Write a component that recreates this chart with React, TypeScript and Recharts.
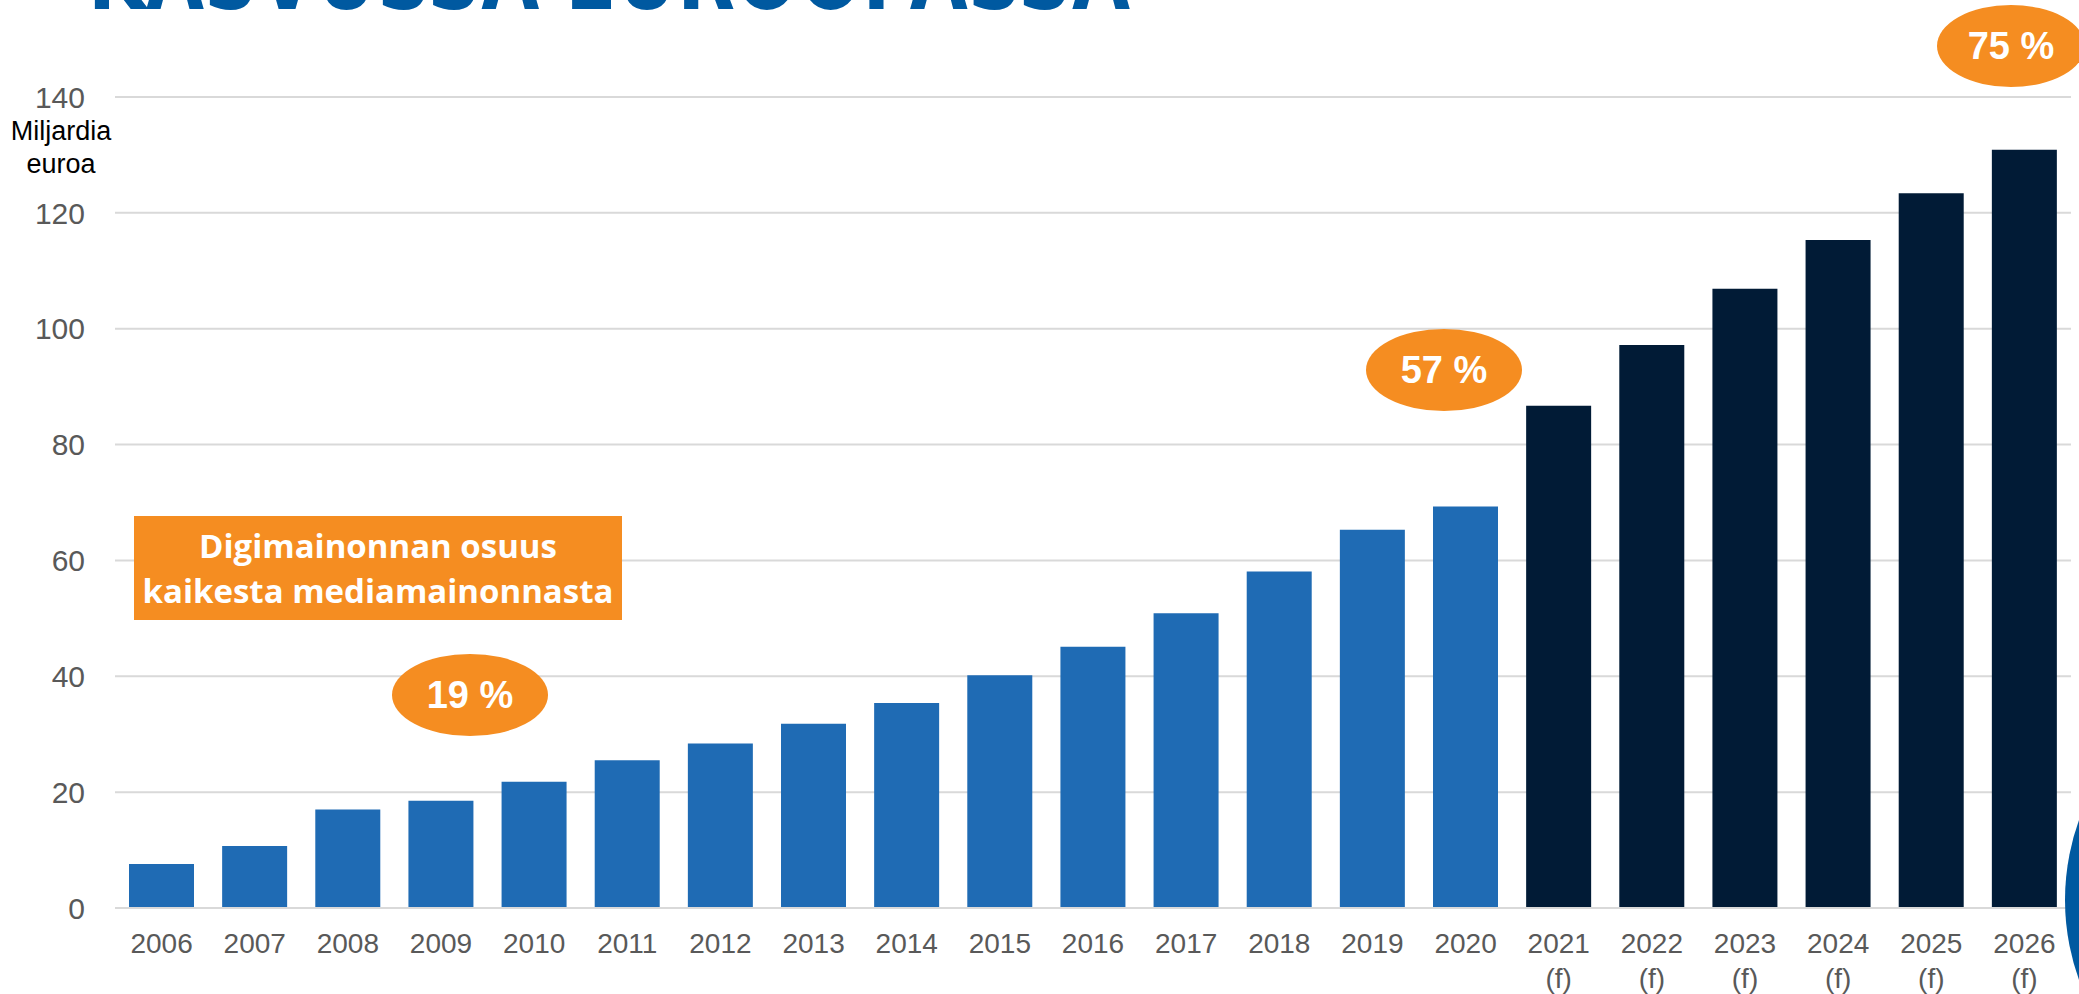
import React from 'react';
import { BarChart, Bar, XAxis, YAxis, CartesianGrid, Cell } from 'recharts';

const years = [
  '2006', '2007', '2008', '2009', '2010', '2011', '2012', '2013', '2014', '2015', '2016',
  '2017', '2018', '2019', '2020', '2021', '2022', '2023', '2024', '2025', '2026',
];
const spend = [
  7.6, 10.7, 17.0, 18.5, 21.8, 25.5, 28.4, 31.8, 35.4, 40.2, 45.1,
  50.9, 58.1, 65.3, 69.3, 86.7, 97.2, 106.9, 115.3, 123.4, 130.9,
];
const isForecast = [
  false, false, false, false, false, false, false, false, false, false, false,
  false, false, false, false, true, true, true, true, true, true,
];
const yTicks = [0, 20, 40, 60, 80, 100, 120, 140];

const chartData = years.map((year, i) => ({ year, value: spend[i], forecast: isForecast[i] }));

const BLUE = '#1f6bb4';
const NAVY = '#011b36';
const ORANGE = '#f58d21';
const GREY_TEXT = '#595959';
const GRID = '#d9d9d9';

const YearTick = ({ x, y, payload }: any) => {
  const idx = years.indexOf(payload.value);
  return (
    <text x={x} y={y} textAnchor="middle" fill={GREY_TEXT} fontSize={28} fontFamily="'Liberation Sans', Arial, sans-serif">
      <tspan x={x} dy={45}>{payload.value}</tspan>
      {isForecast[idx] && <tspan x={x} dy={35}>(f)</tspan>}
    </text>
  );
};

const ValueTick = ({ x, y, payload }: any) => (
  <text x={x} y={y} dy="0.355em" textAnchor="end" fill={GREY_TEXT} fontSize={30} fontFamily="'Liberation Sans', Arial, sans-serif">
    {payload.value}
  </text>
);

const Bubble = ({ left, top, width, text }: { left: number; top: number; width: number; text: string }) => (
  <div
    style={{
      position: 'absolute',
      left,
      top,
      width,
      height: 82,
      borderRadius: '50%',
      background: ORANGE,
      color: '#fff',
      display: 'flex',
      alignItems: 'center',
      justifyContent: 'center',
      fontFamily: "'Liberation Sans', Arial, sans-serif",
      fontWeight: 700,
      fontSize: 38,
    }}
  >
    {text}
  </div>
);

export default function App() {
  return (
    <div
      style={{
        position: 'absolute',
        left: 0,
        top: 0,
        width: 2079,
        height: 994,
        overflow: 'hidden',
        background: '#fff',
      }}
    >
      <svg width={2079} height={40} style={{ position: 'absolute', left: 0, top: 0 }}>
        <text
          x={88}
          y={9}
          textLength={1042}
          lengthAdjust="spacingAndGlyphs"
          fill="#0059a0"
          fontSize={98}
          fontWeight={700}
          fontFamily="'Liberation Sans Narrow', 'DejaVu Sans Condensed', 'Liberation Sans', sans-serif"
        >
          KASVUSSA EUROOPASSA
        </text>
      </svg>

      <BarChart
        width={2079}
        height={994}
        data={chartData}
        margin={{ top: 97, right: 8, bottom: 0, left: 0 }}
      >
        <CartesianGrid vertical={false} stroke={GRID} strokeWidth={2} />
        <XAxis
          dataKey="year"
          height={86}
          axisLine={{ stroke: GRID, strokeWidth: 2 }}
          tickLine={false}
          tickSize={0}
          tickMargin={0}
          interval={0}
          tick={<YearTick />}
        />
        <YAxis
          width={115}
          domain={[0, 140]}
          ticks={yTicks}
          axisLine={false}
          tickLine={false}
          tickSize={0}
          tickMargin={30}
          tick={<ValueTick />}
        />
        <Bar dataKey="value" barSize={65} isAnimationActive={false}>
          {chartData.map((d) => (
            <Cell key={d.year} fill={d.forecast ? NAVY : BLUE} />
          ))}
        </Bar>
      </BarChart>

      <div
        style={{
          position: 'absolute',
          left: 0,
          top: 115,
          width: 122,
          textAlign: 'center',
          fontFamily: "'Liberation Sans', Arial, sans-serif",
          fontSize: 27,
          lineHeight: '33px',
          color: '#000',
        }}
      >
        Miljardia
        <br />
        euroa
      </div>

      <div
        style={{
          position: 'absolute',
          left: 134,
          top: 516,
          width: 488,
          height: 104,
          background: ORANGE,
          color: '#fff',
          display: 'flex',
          flexDirection: 'column',
          alignItems: 'center',
          justifyContent: 'center',
          fontFamily: "'Open Sans', 'Noto Sans', sans-serif",
          fontWeight: 700,
          fontSize: 33,
          lineHeight: '45px',
        }}
      >
        <div>Digimainonnan osuus</div>
        <div>kaikesta mediamainonnasta</div>
      </div>

      <Bubble left={392} top={654} width={156} text="19 %" />
      <Bubble left={1366} top={329} width={156} text="57 %" />
      <Bubble left={1937} top={5} width={148} text="75 %" />

      <div
        style={{
          position: 'absolute',
          left: 2065,
          top: 665,
          width: 470,
          height: 470,
          borderRadius: '50%',
          background: '#0059a0',
        }}
      />
    </div>
  );
}
